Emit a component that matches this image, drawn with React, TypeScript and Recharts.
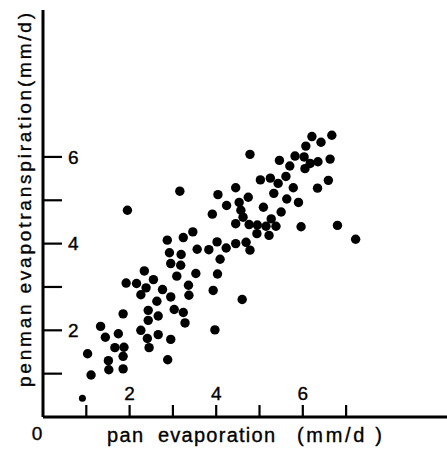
import React from 'react';
import { ScatterChart, Scatter, XAxis, YAxis, Label } from 'recharts';

// pan evaporation (mm/d) vs penman evapotranspiration (mm/d)
const panEvap = [
  6.67, 6.21, 6.42, 6.07, 4.78, 5.82, 6.03, 5.46, 6.63, 6.35,
  6.17, 5.70, 6.05, 5.61, 5.02, 5.25, 6.59, 5.43, 5.78, 6.34,
  4.45, 5.33, 4.74, 4.04, 5.63, 5.90, 4.53, 4.24, 5.09, 4.57,
  3.91, 5.50, 4.62, 5.27, 4.45, 4.76, 4.95, 5.15, 5.38, 5.96,
  6.80, 4.94, 5.22, 7.22, 4.02, 4.23, 4.45, 4.69, 4.78, 3.83,
  3.56, 4.09, 4.03, 3.93, 4.60, 3.97, 3.16, 1.95, 3.46, 3.24,
  2.87, 2.92, 3.19, 2.95, 3.18, 2.34, 3.09, 3.53, 2.55, 1.92,
  2.16, 2.38, 2.76, 3.36, 2.26, 2.95, 3.37, 2.63, 1.85, 2.43,
  3.03, 3.24, 2.66, 2.43, 3.28, 1.33, 2.26, 1.74, 1.44, 2.66,
  2.41, 2.95, 1.66, 1.87, 2.45, 1.03, 1.85, 1.51, 2.88, 1.52,
  1.85, 1.11,
];

const penmanEt = [
  6.50, 6.47, 6.34, 6.25, 6.06, 6.02, 6.00, 5.92, 5.95, 5.89,
  5.85, 5.79, 5.73, 5.55, 5.47, 5.51, 5.46, 5.39, 5.29, 5.28,
  5.29, 5.16, 5.07, 5.13, 5.03, 4.95, 4.95, 4.88, 4.84, 4.77,
  4.68, 4.73, 4.61, 4.57, 4.46, 4.44, 4.43, 4.40, 4.40, 4.39,
  4.42, 4.23, 4.19, 4.10, 4.04, 3.90, 4.00, 4.03, 3.85, 3.86,
  3.87, 3.64, 3.30, 2.92, 2.71, 2.01, 5.21, 4.77, 4.27, 4.14,
  4.08, 3.79, 3.75, 3.54, 3.50, 3.37, 3.25, 3.31, 3.17, 3.09,
  3.08, 2.98, 2.94, 3.04, 2.82, 2.77, 2.81, 2.67, 2.38, 2.46,
  2.48, 2.41, 2.33, 2.23, 2.17, 2.09, 2.00, 1.92, 1.84, 1.90,
  1.81, 1.79, 1.60, 1.61, 1.60, 1.46, 1.40, 1.30, 1.32, 1.09,
  1.11, 0.97,
];

// the one small, faint dot near the origin
const smallPanEvap = [0.91];
const smallPenmanEt = [0.43];

const xTicks = [1, 2, 3, 4, 5, 6, 7];
const yTicks = [1, 2, 3, 4, 5, 6];
const labelledTicks = [2, 4, 6];

const points = panEvap.map((x, i) => ({ x, y: penmanEt[i] }));
const smallPoints = smallPanEvap.map((x, i) => ({ x, y: smallPenmanEt[i] }));

const FONT = '"Liberation Sans", Arial, sans-serif';
// the scan's print is a little heavier than a plain regular weight
const INK = { fill: '#000', stroke: '#000', strokeWidth: 0.35 };

const XTick = (props: any) => {
  const { x, y, payload } = props;
  const v = payload.value;
  return (
    <g>
      <line x1={x} y1={y} x2={x} y2={y - 12} stroke="#000" strokeWidth={2.2} />
      {labelledTicks.includes(v) && (
        <text x={x} y={y - 17} textAnchor="middle" fontSize={19} fontFamily={FONT} {...INK}>
          {v}
        </text>
      )}
    </g>
  );
};

const YTick = (props: any) => {
  const { x, y, payload } = props;
  const v = payload.value;
  return (
    <g>
      <line x1={x} y1={y} x2={x + 19} y2={y} stroke="#000" strokeWidth={2.2} />
      {labelledTicks.includes(v) && (
        <text x={x + 25} y={y} dy="0.35em" fontSize={19} fontFamily={FONT} {...INK}>
          {v}
        </text>
      )}
    </g>
  );
};

const Dot = (r: number) => (props: any) => <circle cx={props.cx} cy={props.cy} r={r} fill="#000" />;

const XTitle = () => (
  <g fontFamily={FONT} fontSize={20} {...INK}>
    <text x={37} y={440} textAnchor="middle" fontSize={19}>0</text>
    <text x={107} y={442} textLength={36} lengthAdjust="spacing">pan</text>
    <text x={158} y={442} textLength={117} lengthAdjust="spacing">evaporation</text>
    <text x={297} y={442} textLength={85} lengthAdjust="spacing">(mm/d )</text>
  </g>
);

const YTitle = () => (
  <text
    x={31}
    y={200}
    transform="rotate(-90, 31, 200)"
    textAnchor="middle"
    fontFamily={FONT}
    fontSize={19}
    {...INK}
    textLength={374}
    lengthAdjust="spacing"
  >
    penman evapotranspiration(mm/d)
  </text>
);

export default function App() {
  return (
    <div style={{ position: 'absolute', left: 0, top: 0, width: 447, height: 452, background: '#fff' }}>
      <ScatterChart width={447} height={452} margin={{ top: 10, right: 0, bottom: 0, left: 0 }}>
        <XAxis
          type="number"
          dataKey="x"
          domain={[0, 9.33]}
          allowDataOverflow
          ticks={xTicks}
          interval={0}
          height={35}
          tickSize={0}
          tickMargin={0}
          tickLine={false}
          tick={<XTick />}
          axisLine={{ stroke: '#000', strokeWidth: 3 }}
        >
          <Label content={<XTitle />} />
        </XAxis>
        <YAxis
          type="number"
          dataKey="y"
          domain={[0, 9.39]}
          allowDataOverflow
          ticks={yTicks}
          interval={0}
          width={43}
          tickSize={0}
          tickMargin={0}
          tickLine={false}
          tick={<YTick />}
          axisLine={{ stroke: '#000', strokeWidth: 3 }}
        >
          <Label content={<YTitle />} />
        </YAxis>
        <Scatter data={points} shape={Dot(4.7)} isAnimationActive={false} />
        <Scatter data={smallPoints} shape={Dot(3.5)} isAnimationActive={false} />
      </ScatterChart>
    </div>
  );
}
